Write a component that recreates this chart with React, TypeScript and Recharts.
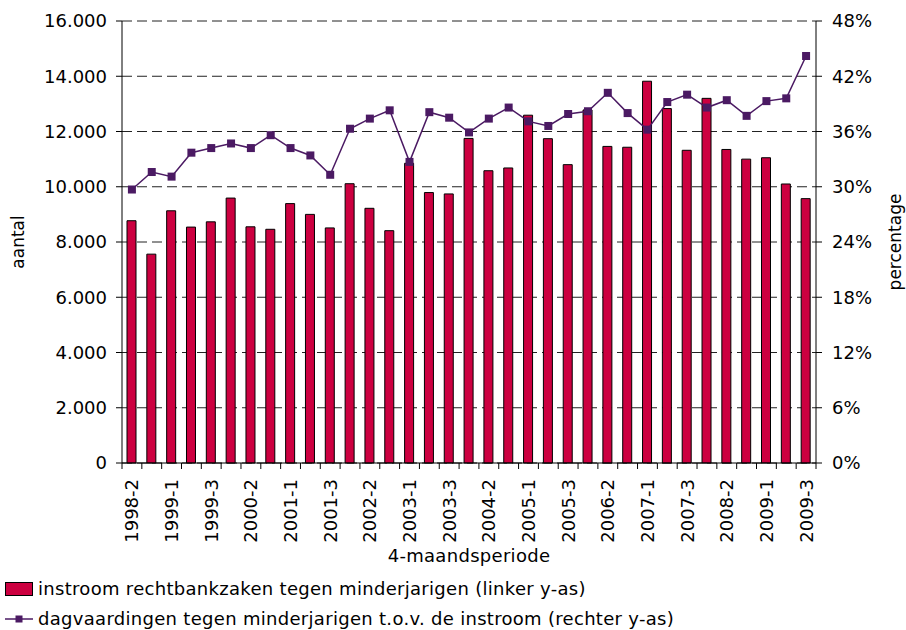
import React from 'react';
import { ComposedChart, Bar, Line, XAxis, YAxis, CartesianGrid } from 'recharts';

const periods = [
  '1998-2', '1998-3', '1999-1', '1999-2', '1999-3', '2000-1', '2000-2', '2000-3',
  '2001-1', '2001-2', '2001-3', '2002-1', '2002-2', '2002-3', '2003-1', '2003-2',
  '2003-3', '2004-1', '2004-2', '2004-3', '2005-1', '2005-2', '2005-3', '2006-1',
  '2006-2', '2006-3', '2007-1', '2007-2', '2007-3', '2008-1', '2008-2', '2008-3',
  '2009-1', '2009-2', '2009-3',
];

// instroom rechtbankzaken (linker y-as)
const instroom = [
  8770, 7560, 9130, 8540, 8730, 9590, 8550, 8460, 9390, 9000, 8510, 10110, 9220, 8410,
  10850, 9790, 9740, 11750, 10580, 10680, 12590, 11740, 10800, 12780, 11460, 11430,
  13820, 12830, 11320, 13200, 11350, 11000, 11050, 10100, 9570,
];

// dagvaardingen t.o.v. instroom in % (rechter y-as)
const dagvaardingen = [
  29.7, 31.6, 31.1, 33.7, 34.2, 34.7, 34.2, 35.6, 34.2, 33.4, 31.3, 36.3, 37.4, 38.3,
  32.7, 38.1, 37.5, 35.9, 37.4, 38.6, 37.1, 36.6, 37.9, 38.2, 40.2, 38.0, 36.2, 39.2,
  40.0, 38.6, 39.4, 37.7, 39.3, 39.6, 44.2,
];

const leftTicks = [0, 2000, 4000, 6000, 8000, 10000, 12000, 14000, 16000];
const rightTicks = [0, 6, 12, 18, 24, 30, 36, 42, 48];

const seriesNames = [
  'instroom rechtbankzaken tegen minderjarigen (linker y-as)',
  'dagvaardingen tegen minderjarigen t.o.v. de instroom (rechter y-as)',
];

const data = periods.map((p, i) => ({ period: p, instroom: instroom[i], pct: dagvaardingen[i] }));

const FONT = '"DejaVu Sans", Verdana, sans-serif';
const BAR_COLOR = '#CC0040';
const LINE_COLOR = '#4B1A63';

const fmtThousands = (v: number) => v.toLocaleString('de-DE');

const XTick = (props: any) => {
  const { x, y, payload, index } = props;
  const off = payload && payload.offset ? payload.offset : 694 / 35 / 2;
  const isLast = index === periods.length - 1;
  return (
    <g>
      <line x1={x - off} x2={x - off} y1={y} y2={y + 6} stroke="#000" />
      {isLast && <line x1={x + off} x2={x + off} y1={y} y2={y + 6} stroke="#000" />}
      {index % 2 === 0 && (
        <text
          x={x}
          y={y + 16}
          dy="0.36em"
          transform={`rotate(-90, ${x}, ${y + 16})`}
          textAnchor="end"
          fontSize={18}
          fill="#000"
          fontFamily={FONT}
        >
          {payload.value}
        </text>
      )}
    </g>
  );
};

const SquareDot = (props: any) => {
  const { cx, cy, index } = props;
  return <rect key={`dot-${index}`} x={cx - 4} y={cy - 4} width={8} height={8} fill={LINE_COLOR} />;
};

export default function App() {
  return (
    <div style={{ position: 'absolute', left: 0, top: 0, width: 906, height: 630, background: '#fff' }}>
      <ComposedChart
        width={906}
        height={630}
        data={data}
        margin={{ top: 21, right: 0, left: 0, bottom: 0 }}
        style={{ fontFamily: FONT }}
      >
        <CartesianGrid
          vertical={false}
          yAxisId="left"
          stroke="#222"
          strokeDasharray="10 5"
        />
        <XAxis
          dataKey="period"
          height={167}
          interval={0}
          tickLine={false}
          tickSize={0}
          tickMargin={0}
          axisLine={{ stroke: '#000' }}
          tick={<XTick />}
          label={{
            value: '4-maandsperiode',
            position: 'insideBottom',
            offset: 68,
            fontSize: 18,
            fill: '#000',
            letterSpacing: 0.3,
            fontFamily: FONT,
          }}
        />
        <YAxis
          yAxisId="left"
          width={122}
          domain={[0, 16000]}
          ticks={leftTicks}
          tickFormatter={fmtThousands}
          tickSize={6}
          tickMargin={9}
          axisLine={{ stroke: '#000' }}
          tickLine={{ stroke: '#000' }}
          tick={{ fontSize: 18, fill: '#000', fontFamily: FONT }}
          label={{
            value: 'aantal',
            angle: -90,
            position: 'insideLeft',
            offset: 18,
            style: { textAnchor: 'middle' },
            fontSize: 17,
            fill: '#000',
            fontFamily: FONT,
          }}
        />
        <YAxis
          yAxisId="right"
          orientation="right"
          width={90}
          domain={[0, 48]}
          ticks={rightTicks}
          tickFormatter={(v: number) => `${v}%`}
          tickSize={6}
          tickMargin={10}
          axisLine={{ stroke: '#000' }}
          tickLine={{ stroke: '#000' }}
          tick={{ fontSize: 18, fill: '#000', fontFamily: FONT }}
          label={{
            value: 'percentage',
            angle: -90,
            position: 'insideRight',
            offset: 11,
            style: { textAnchor: 'middle' },
            fontSize: 17,
            fill: '#000',
            fontFamily: FONT,
          }}
        />
        <Bar
          yAxisId="left"
          dataKey="instroom"
          name={seriesNames[0]}
          fill={BAR_COLOR}
          stroke="#000"
          strokeWidth={1}
          barSize={9}
          isAnimationActive={false}
        />
        <Line
          yAxisId="right"
          dataKey="pct"
          name={seriesNames[1]}
          stroke={LINE_COLOR}
          strokeWidth={1.5}
          dot={SquareDot}
          activeDot={false}
          isAnimationActive={false}
        />
      </ComposedChart>
      <div
        style={{
          position: 'absolute',
          left: 5,
          top: 579,
          fontFamily: FONT,
          fontSize: 18,
          letterSpacing: 0.3,
          color: '#000',
          lineHeight: '20px',
          whiteSpace: 'nowrap',
        }}
      >
        <div style={{ display: 'flex', alignItems: 'center', height: 20, marginBottom: 10 }}>
          <svg width={32} height={16} style={{ flex: 'none' }}>
            <rect x={0.5} y={1.5} width={27} height={13} fill={BAR_COLOR} stroke="#000" />
          </svg>
          <span style={{ marginLeft: 1 }}>{seriesNames[0]}</span>
        </div>
        <div style={{ display: 'flex', alignItems: 'center', height: 20 }}>
          <svg width={32} height={16} style={{ flex: 'none' }}>
            <line x1={0} x2={28} y1={8} y2={8} stroke={LINE_COLOR} strokeWidth={1.5} />
            <rect x={10.5} y={4.5} width={7} height={7} fill={LINE_COLOR} />
          </svg>
          <span style={{ marginLeft: 1 }}>{seriesNames[1]}</span>
        </div>
      </div>
    </div>
  );
}
